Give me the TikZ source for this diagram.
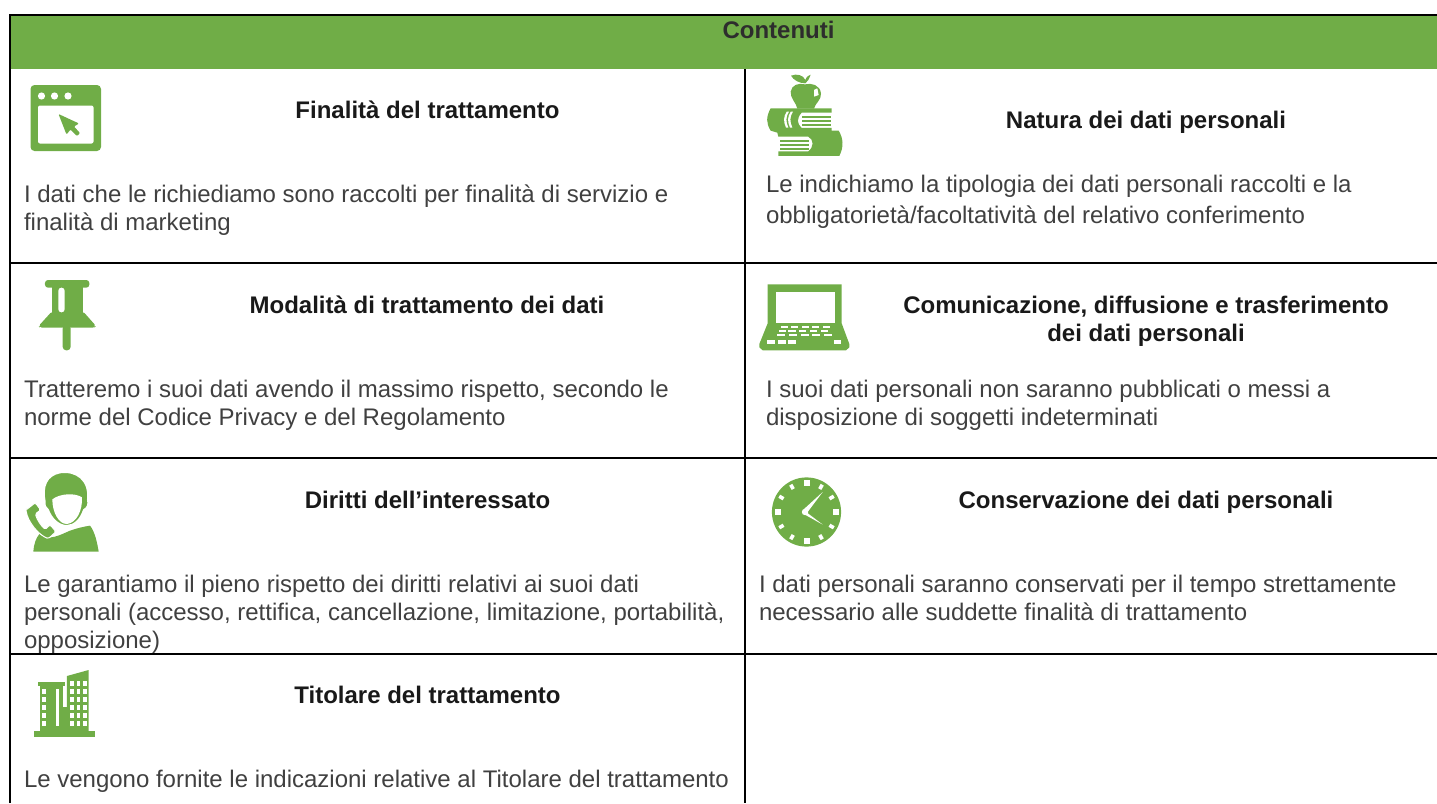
\documentclass[tikz,border=0pt]{standalone}
\usepackage{fontspec}
\setmainfont{Liberation Sans}
\definecolor{gr}{HTML}{70AD47}
\definecolor{tx}{HTML}{404040}
\tikzset{
 body/.style={anchor=base west,inner sep=0pt,outer sep=0pt,font=\fontsize{24pt}{28pt}\selectfont,text=tx},
 head/.style={anchor=base,inner sep=0pt,outer sep=0pt,font=\fontsize{24pt}{28pt}\selectfont\bfseries,text=black!90},
 grid/.style={line width=2pt,black},
 ic/.style={fill=gr,draw=none},
 hole/.style={fill=white,draw=none}}
\begin{document}
\begin{tikzpicture}[x=1pt,y=-1pt]
\useasboundingbox (0,0) rectangle (1437,803);
\fill[gr] (10,15) rectangle (1437,69);
% grid
\draw[grid] (10,803) -- (10,15) -- (1437,15);
\draw[grid] (745,69) -- (745,803);
\draw[grid] (10,263) -- (1437,263);
\draw[grid] (10,458) -- (1437,458);
\draw[grid] (10,653.7) -- (1437,653.7);
% texts
\node[head,text=tx!70!black] (t0) at (778.5,38) {Contenuti};
\node[head] (h1) at (427.5,118) {Finalità del trattamento};
\node[head] (h2) at (1146,128) {Natura dei dati personali};
\node[head] (h3) at (427,313) {Modalità di trattamento dei dati};
\node[head] (h4) at (1146,313) {Comunicazione, diffusione e trasferimento};
\node[head] (h4b) at (1146,341) {dei dati personali};
\node[head] (h5) at (427.5,508) {Diritti dell’interessato};
\node[head] (h6) at (1146,508) {Conservazione dei dati personali};
\node[head] (h7) at (427.5,703) {Titolare del trattamento};
\node[body] (b1) at (24,202) {I dati che le richiediamo sono raccolti per finalità di servizio e};
\node[body] (b1b) at (24,230) {finalità di marketing};
\node[body] (b2) at (766,192) {Le indichiamo la tipologia dei dati personali raccolti e la};
\node[body] (b2b) at (766,223) {obbligatorietà/facoltatività del relativo conferimento};
\node[body] (b3) at (24,397) {Tratteremo i suoi dati avendo il massimo rispetto, secondo le};
\node[body] (b3b) at (24,425) {norme del Codice Privacy e del Regolamento};
\node[body] (b4) at (766,397) {I suoi dati personali non saranno pubblicati o messi a};
\node[body] (b4b) at (766,425) {disposizione di soggetti indeterminati};
\node[body] (b5) at (24,592) {Le garantiamo il pieno rispetto dei diritti relativi ai suoi dati};
\node[body] (b5b) at (24,620) {personali (accesso, rettifica, cancellazione, limitazione, portabilità,};
\node[body] (b5c) at (24,648) {opposizione)};
\node[body] (b6) at (759,592) {I dati personali saranno conservati per il tempo strettamente};
\node[body] (b6b) at (759,620) {necessario alle suddette finalità di trattamento};
\node[body] (b7) at (24,787) {Le vengono fornite le indicazioni relative al Titolare del trattamento};
% icon 1 window
\fill[ic,rounded corners=4pt] (30.5,85) rectangle (101,151);
\fill[hole,rounded corners=2pt] (38,105.5) rectangle (93.5,143.5);
\foreach \cx in {41.5,54.5,68}{\fill[hole] (\cx,96) circle (3.6);}
\fill[ic,rounded corners=1pt] (58.5,114) -- (79,123.5) -- (74,126.5) -- (80,133) -- (77,136) -- (70.5,129.5) -- (66.5,134.5) -- cycle;
% icon 2 books + apple
\begin{scope}[shift={(740,60)},x=0.3333pt,y=-0.3333pt]
\fill[ic] (153,47) .. controls (170,40) and (190,45) .. (196,60) .. controls (200,50) and (205,46) .. (212,44) .. controls (207,58) and (202,66) .. (196,70) .. controls (178,70) and (160,60) .. (153,47) -- cycle;
\fill[ic] (195,73) .. controls (215,68) and (240,75) .. (243,100) .. controls (245,120) and (225,130) .. (222,146) -- (172,146) .. controls (170,130) and (150,115) .. (152,95) .. controls (155,75) and (175,68) .. (195,73) -- cycle;
\fill[hole] (222,90) -- (232,85) -- (236,105) -- (222,110) -- cycle;
\fill[ic] (92,145) -- (275,145) -- (275,158) -- (185,158) .. controls (170,175) and (170,190) .. (185,204) -- (275,204) -- (275,212) -- (296,212) .. controls (310,235) and (312,260) .. (298,288) -- (115,288) -- (115,274) -- (205,274) .. controls (222,260) and (222,240) .. (205,230) -- (115,230) -- (112,218) -- (92,212) .. controls (78,190) and (78,170) .. (92,145) -- cycle;
\foreach \ya in {168,180,192}{\fill[ic] (186,\ya) rectangle (272,\ya+5);}
\foreach \ya in {240,252,264}{\fill[ic] (120,\ya) rectangle (208,\ya+5);}
\fill[hole] (140,155) .. controls (130,170) and (130,185) .. (138,203) -- (145,203) .. controls (137,185) and (137,170) .. (147,155) -- cycle;
\fill[hole] (152,155) .. controls (142,170) and (142,185) .. (150,203) -- (157,203) .. controls (149,185) and (149,170) .. (159,155) -- cycle;
\end{scope}
% icon 3 pin
\begin{scope}[shift={(10,265)},x=0.3333pt,y=-0.3333pt]
\fill[ic,rounded corners=3pt] (105,45) rectangle (238,68);
\fill[ic] (125,60) rectangle (220,145);
\fill[ic,rounded corners=2pt] (125,140) -- (220,140) -- (258,183) -- (254,188) -- (90,188) -- (86,183) -- cycle;
\fill[ic,rounded corners=3.5pt] (158,180) rectangle (182,256);
\fill[hole,rounded corners=3pt] (145,68) rectangle (164,142);
\end{scope}
% icon 4 laptop
\begin{scope}[shift={(750,270)},x=0.3333pt,y=-0.3333pt]
\fill[ic] (53,43) -- (275,43) -- (275,160) -- (298,222) -- (298,232) -- (288,241) -- (38,241) -- (28,232) -- (28,222) -- (53,160) -- cycle;
\fill[hole] (79,65) rectangle (254,158);
\foreach \xa in {92,123,155,186,218}{\fill[hole] (\xa,168) rectangle ++(22,7);}
\foreach \xa in {86,115,147,179,213}{\fill[hole] (\xa,180) rectangle ++(22,7);}
\foreach \xa in {81,118,152,186,221}{\fill[hole] (\xa,192) rectangle ++(24,7);}
\foreach \xa in {52,85,115}{\fill[hole] (\xa,211) rectangle ++(23,10);}
\fill[hole] (253,211) rectangle ++(19,10);
\end{scope}
% icon 5 person
\begin{scope}[shift={(10,460)},x=0.3333pt,y=-0.3333pt]
\fill[ic] (70,275) .. controls (72,250) and (78,235) .. (88,222) .. controls (115,245) and (150,225) .. (180,212) .. controls (200,205) and (220,200) .. (240,197) .. controls (255,215) and (262,250) .. (266,275) -- cycle;
\path[fill=gr,draw=white,line width=2pt] (104,125) .. controls (95,80) and (108,45) .. (150,37) .. controls (200,30) and (240,60) .. (234,118) .. controls (238,135) and (232,145) .. (222,150) .. controls (212,180) and (192,198) .. (170,198) .. controls (145,198) and (123,175) .. (114,150) .. controls (106,145) and (102,135) .. (104,125) -- cycle;
\fill[hole] (127,118) .. controls (150,100) and (195,98) .. (216,112) .. controls (218,150) and (200,190) .. (170,192) .. controls (145,192) and (127,155) .. (127,118) -- cycle;
\path[fill=gr,draw=white,line width=1pt,rounded corners=1.5pt] (48,150) -- (76,128) -- (92,150) -- (76,162) .. controls (82,180) and (92,196) .. (106,208) -- (120,194) -- (138,215) -- (115,236) .. controls (85,224) and (53,185) .. (48,150) -- cycle;
\end{scope}
% icon 6 clock
\fill[ic] (806.5,512) circle (34.6);
\begin{scope}[shift={(806.5,512)}]
\foreach \ang in {0,90,180,270}{\fill[hole,rotate=\ang] (-3,-32) rectangle (3,-26);}
\foreach \ang in {30,60,120,150,210,240,300,330}{\fill[hole,rotate=\ang] (-1.8,-31.5) rectangle (1.8,-26.5);}
\fill[hole] (-1.5,0) circle (3.2);
\fill[hole] (-3,-2.5) -- (16.2,-20) -- (0,1.5) -- cycle;
\fill[hole] (-3,-2) -- (16.2,12.6) -- (-1,3) -- cycle;
\end{scope}
% icon 7 building
\begin{scope}[shift={(10,650)},x=0.3333pt,y=-0.3333pt]
\fill[ic] (72,243) rectangle (255,261);
\fill[ic] (84,97) rectangle (165,109);
\fill[ic] (90,105) rectangle (160,245);
\fill[ic] (160,170) rectangle (172,245);
\fill[ic] (171,78) -- (236,60) -- (236,245) -- (171,245) -- cycle;
\fill[hole] (139,117) rectangle (146,227);
\foreach \ya in {117,141,165,189,213}{\fill[hole] (96,\ya) rectangle ++(11,14);}
\foreach \ya in {93,117,141,165,189,213}{\foreach \xa in {180,200,220}{\fill[hole] (\xa,\ya) rectangle ++(11,14);}}
\end{scope}
\end{tikzpicture}
\end{document}
